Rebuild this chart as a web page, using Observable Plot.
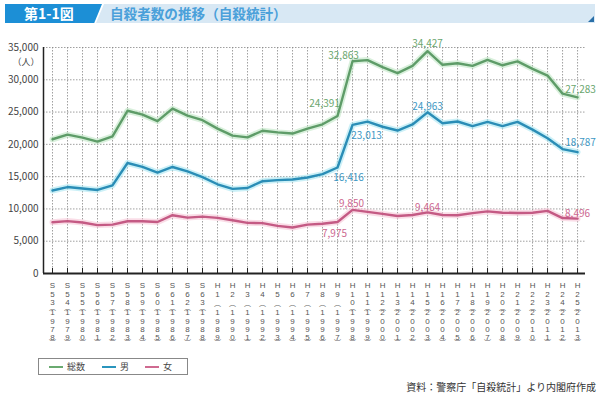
<!DOCTYPE html>
<html><head><meta charset="utf-8">
<script src="https://cdn.jsdelivr.net/npm/d3@7"></script>
<script src="https://cdn.jsdelivr.net/npm/@observablehq/plot@0.6"></script>
<style>
body{margin:0;background:#fff;font-family:"Noto Sans CJK JP","Noto Sans",sans-serif;}
#wrap{position:relative;width:600px;height:397px;overflow:hidden;background:#fff;}
.bandBlue{position:absolute;left:5px;top:4px;width:97px;height:19px;background:#1c8fd6;clip-path:polygon(0 0,100% 0,92% 100%,0 100%);}
.bandLight{position:absolute;left:96px;top:4px;width:499px;height:19px;background:#d8e8f4;clip-path:polygon(8px 0,100% 0,100% 100%,0 100%);}
.tri{position:absolute;left:588px;top:16px;width:6px;height:6px;background:#2a6fa8;clip-path:polygon(100% 0,100% 100%,0 100%);}
.fig{position:absolute;left:24px;top:4px;height:19px;line-height:19px;color:#fff;font-weight:bold;font-size:14px;}
.title{position:absolute;left:110px;top:4px;height:19px;line-height:19px;color:#4aa0da;font-weight:bold;font-size:13.6px;}
#chart{position:absolute;left:0;top:30px;}
.legend{position:absolute;left:38px;top:358px;width:150px;height:17px;border:1px solid #888;box-sizing:border-box;font-size:9px;color:#444;}
.legend span{position:absolute;top:0;line-height:15px;}
.legend i{position:absolute;top:7px;height:2px;width:14px;}
.caption{position:absolute;right:4px;top:379px;font-size:10px;color:#333;}
</style></head><body>
<div id="wrap">
  <div class="bandBlue"></div>
  <div class="bandLight"></div>
  <div class="tri"></div>
  <div class="fig">第1-1図</div>
  <div class="title">自殺者数の推移（自殺統計）</div>
  <div id="chart"></div>
  <div class="legend">
    <i style="left:10px;background:#6aaa70"></i><span style="left:28px">総数</span>
    <i style="left:63px;background:#2a95bd"></i><span style="left:81px">男</span>
    <i style="left:106px;background:#cf6a90"></i><span style="left:124px">女</span>
  </div>
  <div class="caption">資料：警察庁「自殺統計」より内閣府作成</div>
</div>
<script>
const years = [1978,1979,1980,1981,1982,1983,1984,1985,1986,1987,1988,1989,1990,1991,1992,1993,1994,1995,1996,1997,1998,1999,2000,2001,2002,2003,2004,2005,2006,2007,2008,2009,2010,2011,2012,2013];
const eraLabels = ["S53","S54","S55","S56","S57","S58","S59","S60","S61","S62","S63","H1","H2","H3","H4","H5","H6","H7","H8","H9","H10","H11","H12","H13","H14","H15","H16","H17","H18","H19","H20","H21","H22","H23","H24","H25"];
const total = [20788,21503,21048,20434,21228,25202,24596,23599,25524,24460,23742,22436,21346,21084,22104,21851,21679,22445,23104,24391,32863,33048,31957,31042,32143,34427,32325,32552,32155,33093,32249,32845,31690,30651,27858,27283];
const male = [12859,13386,13155,12942,13654,17116,16508,15624,16497,15802,14934,13818,13102,13242,14296,14468,14560,14874,15393,16416,23013,23512,22727,22144,23080,24963,23272,23540,22813,23478,22831,23472,22283,20955,19273,18787];
const female = [7929,8117,7893,7492,7574,8086,8088,7975,9027,8658,8808,8618,8244,7842,7808,7383,7119,7571,7711,7975,9850,9536,9230,8898,9063,9464,9053,9012,9342,9615,9418,9373,9407,9696,8585,8496];
const yTicks = [0,5000,10000,15000,20000,25000,30000,35000];

const fmt = d3.format(",");
const rows = s => years.map((y,i)=>({year:y, value:s[i]}));
const G = "#5e9c68", B = "#2a8db6", P = "#c45a84";
const GL = "#bfe6c4", BL = "#a9e6f2", PL = "#f6c7d7";
const GT = "#6aa66e", BT = "#3e98c4", PT = "#cc6790";

function lbl(arr, color, year, opts) {
  const i = years.indexOf(year);
  return Plot.text([{year, value: arr[i]}], {x:"year", y:"value", text: d=>fmt(d.value), fill: color, fontSize: 10, ...opts});
}
const idx = d => years.indexOf(d);
const era3 = years.filter((d,i)=>eraLabels[i].length===3);
const era2 = years.filter((d,i)=>eraLabels[i].length===2);
const digitText = {fontSize: 8, fill: "#555", tickSize: 0, lineHeight: 1.04, fontFamily: '"Liberation Sans", sans-serif', label: null};
const parenText = {fontSize: 7, fill: "#666", tickSize: 0, fontFamily: '"Noto Sans CJK JP", sans-serif', label: null};

const chart = Plot.plot({
  width: 600, height: 322,
  marginTop: 17, marginBottom: 79, marginLeft: 43, marginRight: 15,
  x: {type: "linear", domain: [1977.4, 2013.53], label: null},
  y: {domain: [0, 35000], label: null},
  style: {fontFamily: '"Noto Sans CJK JP", "Noto Sans", sans-serif', background: "transparent"},
  marks: [
    Plot.gridY(yTicks.slice(1), {stroke: "#888", strokeOpacity: 0.8, strokeDasharray: "1.5,1.5"}),
    Plot.gridX(years, {stroke: "#888", strokeOpacity: 0.8, strokeDasharray: "1.5,1.5"}),
    Plot.lineY(rows(total), {x: "year", y: "value", stroke: GL, strokeWidth: 6, strokeOpacity: 0.6}),
    Plot.lineY(rows(male), {x: "year", y: "value", stroke: BL, strokeWidth: 6, strokeOpacity: 0.6}),
    Plot.lineY(rows(female), {x: "year", y: "value", stroke: PL, strokeWidth: 6, strokeOpacity: 0.6}),
    Plot.lineY(rows(total), {x: "year", y: "value", stroke: G, strokeWidth: 2.4}),
    Plot.lineY(rows(male), {x: "year", y: "value", stroke: B, strokeWidth: 2.4}),
    Plot.lineY(rows(female), {x: "year", y: "value", stroke: P, strokeWidth: 2.4}),
    Plot.ruleX([1977.4], {stroke: "#222", strokeWidth: 1.5}),
    Plot.ruleY([0], {stroke: "#222", strokeWidth: 2}),
    Plot.ruleX(years, {y1: 0, y2: 0, insetTop: -5, stroke: "#222", strokeWidth: 1}),
    Plot.axisY(yTicks, {tickSize: 0, tickPadding: 5, tickFormat: fmt, fontSize: 10, fill: "#444", label: null}),
    Plot.text(["（人）"], {frameAnchor: "top-left", textAnchor: "end", dx: -4, dy: 11, fontSize: 9, fill: "#444"}),
    Plot.axisX(years, {...digitText, tickPadding: 9, tickFormat: d => eraLabels[idx(d)].split("").join("\n")}),
    Plot.axisX(era3, {...parenText, tickPadding: 31.5, tickFormat: () => "︵"}),
    Plot.axisX(era2, {...parenText, tickPadding: 27.5, tickFormat: () => "︵"}),
    Plot.axisX(years, {...digitText, tickPadding: 36, tickFormat: d => String(d).split("").join("\n")}),
    Plot.axisX(years, {...parenText, tickPadding: 66.5, tickFormat: () => "︶"}),
    lbl(total, GT, 1997, {dx: -13, dy: -12}),
    lbl(total, GT, 1998, {dx: -9, dy: -6}),
    lbl(total, GT, 2003, {dx: 0, dy: -7}),
    lbl(total, GT, 2013, {dx: 3, dy: -8}),
    lbl(male, BT, 1997, {dx: 11, dy: 10}),
    lbl(male, BT, 1998, {dx: 14, dy: 11}),
    lbl(male, BT, 2003, {dx: 0, dy: -6}),
    lbl(male, BT, 2013, {dx: 3, dy: -9}),
    lbl(female, PT, 1997, {dx: -3, dy: 12}),
    lbl(female, PT, 1998, {dx: -1, dy: -6}),
    lbl(female, PT, 2003, {dx: 0, dy: -5}),
    lbl(female, PT, 2013, {dx: 0, dy: -5})
  ]
});
document.getElementById("chart").appendChild(chart);
</script>
</body></html>
